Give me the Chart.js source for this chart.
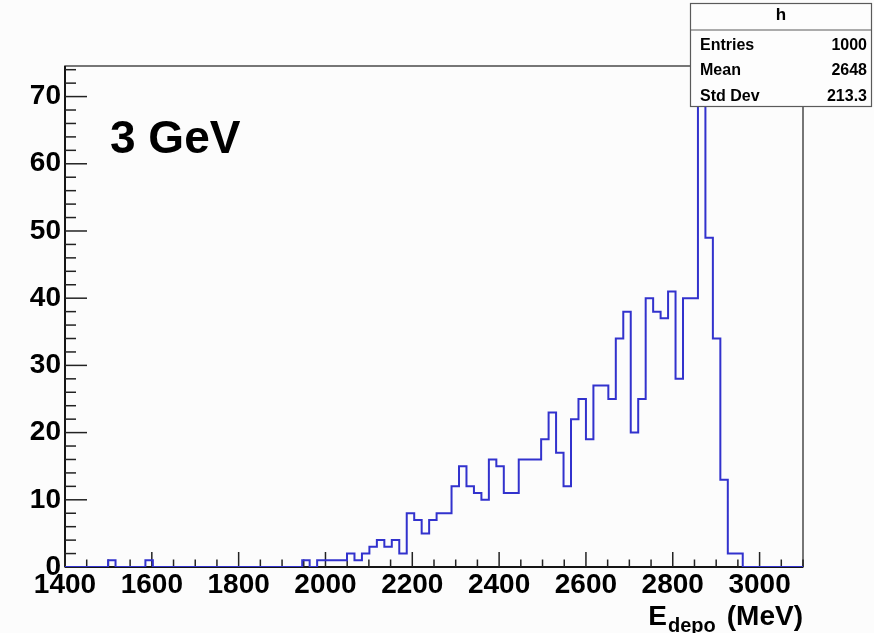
<!DOCTYPE html>
<html>
<head>
<meta charset="utf-8">
<title>E_depo 3 GeV</title>
<script src="https://cdn.jsdelivr.net/npm/chart.js@4/dist/chart.umd.min.js"></script>
<style>
  html, body { margin: 0; padding: 0; background: #fcfcfc; }
  #wrap { width: 874px; height: 633px; }
  canvas { display: block; }
</style>
</head>
<body>
<div id="wrap"><canvas id="c" width="874" height="633"></canvas></div>
<script>
// Histogram "h": deposited energy for 3 GeV showers, fixed-width bins.
const BIN_LOW = 1396;      // lower edge of the first bin (MeV)
const BIN_WIDTH = 17.2;    // MeV per bin
const counts = [
  0, 0, 0, 0, 0, 0, 1, 0, 0, 0,
  0, 1, 0, 0, 0, 0, 0, 0, 0, 0,
  0, 0, 0, 0, 0, 0, 0, 0, 0, 0,
  0, 0, 1, 0, 1, 1, 1, 1, 2, 1,
  2, 3, 4, 3, 4, 2, 8, 7, 5, 7,
  8, 8, 12, 15, 12, 11, 10, 16, 15, 11,
  11, 16, 16, 16, 19, 23, 17, 12, 22, 25,
  19, 27, 27, 25, 34, 38, 20, 25, 40, 38,
  37, 41, 28, 40, 40, 71, 49, 34, 13, 2,
  2, 0, 0, 0, 0, 0, 0, 0, 0, 0
];

// Axis ranges and tick spacing
const X_RANGE = [1400, 3100];
const Y_RANGE = [0, 74.55];
const X_MAJOR = 200, X_MINOR = 50;
const Y_MAJOR = 10, Y_MINOR = 2;

// Text
const PLOT_LABEL = '3 GeV';
const X_TITLE = { main: 'E', sub: 'depo', unit: '(MeV)' };
const STATS_TITLE = 'h';
const statNames = ['Entries', 'Mean', 'Std Dev'];
const statValues = ['1000', '2648', '213.3'];

const FONT = '"Liberation Sans", Arial, Helvetica, sans-serif';

// Step outline: one point per bin edge; each bin's content runs to the next edge
const points = counts.map((c, i) => ({ x: BIN_LOW + i * BIN_WIDTH, y: c }));
points.push({ x: BIN_LOW + counts.length * BIN_WIDTH, y: counts[counts.length - 1] });

function line(ctx, x1, y1, x2, y2) {
  ctx.beginPath(); ctx.moveTo(x1, y1); ctx.lineTo(x2, y2); ctx.stroke();
}

const rootStyle = {
  id: 'rootStyle',
  beforeDraw(chart) {
    const ctx = chart.ctx;
    ctx.save();
    ctx.fillStyle = '#fcfcfc';
    ctx.fillRect(0, 0, chart.width, chart.height);
    ctx.restore();
  },
  beforeDatasetsDraw(chart) {
    const ctx = chart.ctx, a = chart.chartArea;
    const xs = chart.scales.x, ys = chart.scales.y;
    ctx.save();
    // frame
    ctx.strokeStyle = '#4a4a4a';
    ctx.lineWidth = 1.5;
    ctx.strokeRect(a.left, a.top, a.right - a.left, a.bottom - a.top);
    // axes
    ctx.strokeStyle = '#151515';
    ctx.lineWidth = 2;
    line(ctx, a.left, a.top, a.left, a.bottom);
    line(ctx, a.left, a.bottom, a.right, a.bottom);
    // inward ticks
    ctx.lineWidth = 1.5;
    ctx.strokeStyle = '#222';
    for (let v = X_RANGE[0]; v <= X_RANGE[1] + 0.01; v += X_MINOR) {
      const px = xs.getPixelForValue(v);
      const len = ((v - X_RANGE[0]) % X_MAJOR === 0) ? 15 : 7.5;
      line(ctx, px, a.bottom, px, a.bottom - len);
    }
    for (let v = 0; v <= Y_RANGE[1]; v += Y_MINOR) {
      const py = ys.getPixelForValue(v);
      const len = (v % Y_MAJOR === 0) ? 22 : 11;
      line(ctx, a.left, py, a.left + len, py);
    }
    ctx.restore();
  },
  afterDraw(chart) {
    const ctx = chart.ctx, a = chart.chartArea;
    ctx.save();
    ctx.fillStyle = '#000';

    // label inside the frame
    ctx.font = 'bold 46px ' + FONT;
    ctx.textAlign = 'left';
    ctx.textBaseline = 'alphabetic';
    ctx.fillText(PLOT_LABEL, 110, 153);

    // x axis title, right-aligned to the axis end
    ctx.font = 'bold 28px ' + FONT;
    ctx.textAlign = 'right';
    const unitW = ctx.measureText(X_TITLE.unit).width;
    ctx.fillText(X_TITLE.unit, a.right, 625);
    ctx.font = 'bold 20px ' + FONT;
    const subW = ctx.measureText(X_TITLE.sub).width;
    const subRight = a.right - unitW - 11;
    ctx.fillText(X_TITLE.sub, subRight, 632);
    ctx.font = 'bold 28px ' + FONT;
    ctx.fillText(X_TITLE.main, subRight - subW - 1, 625);

    // statistics box
    const bx = 690, by = 3, bw = 182, bh = 104;
    ctx.fillStyle = '#fdfdfd';
    ctx.fillRect(bx, by, bw, bh);
    ctx.strokeStyle = '#5a5a5a';
    ctx.lineWidth = 1.2;
    ctx.strokeRect(bx + 0.5, by + 0.5, bw - 1, bh - 1);
    line(ctx, bx, 30, bx + bw, 30);
    ctx.fillStyle = '#000';
    ctx.font = 'bold 17px ' + FONT;
    ctx.textAlign = 'center';
    ctx.fillText(STATS_TITLE, bx + bw / 2, 20);
    ctx.font = 'bold 16px ' + FONT;
    const rowY = [50, 75, 101];
    statNames.forEach((n, i) => {
      ctx.textAlign = 'left';
      ctx.fillText(n, bx + 10, rowY[i]);
      ctx.textAlign = 'right';
      ctx.fillText(statValues[i], bx + bw - 5, rowY[i]);
    });
    ctx.restore();
  }
};

const tickFont = { family: FONT, size: 28, weight: 'bold' };

new Chart(document.getElementById('c'), {
  type: 'line',
  data: {
    datasets: [{
      data: points,
      stepped: 'before',
      borderColor: 'rgb(50, 50, 205)',
      borderWidth: 2,
      pointRadius: 0,
      fill: false
    }]
  },
  options: {
    responsive: false,
    animation: false,
    devicePixelRatio: 1,
    layout: { padding: { top: 66, right: 71, bottom: 0, left: 0 } },
    scales: {
      x: {
        type: 'linear',
        min: X_RANGE[0],
        max: X_RANGE[1],
        afterFit(s) { s.height = 66; },
        grid: { display: false, drawTicks: false },
        border: { display: false },
        ticks: {
          stepSize: X_MAJOR,
          includeBounds: false,
          autoSkip: false,
          maxRotation: 0,
          padding: 1,
          color: '#000',
          font: tickFont,
          callback: (v) => (v % X_MAJOR === 0 ? String(v) : '')
        }
      },
      y: {
        type: 'linear',
        min: Y_RANGE[0],
        max: Y_RANGE[1],
        afterFit(s) { s.width = 65; },
        grid: { display: false, drawTicks: false },
        border: { display: false },
        ticks: {
          stepSize: Y_MAJOR,
          includeBounds: false,
          autoSkip: false,
          padding: 4,
          color: '#000',
          font: tickFont,
          callback: (v) => (v % Y_MAJOR === 0 ? String(v) : '')
        }
      }
    },
    plugins: { legend: { display: false }, tooltip: { enabled: false } }
  },
  plugins: [rootStyle]
});
</script>
</body>
</html>
